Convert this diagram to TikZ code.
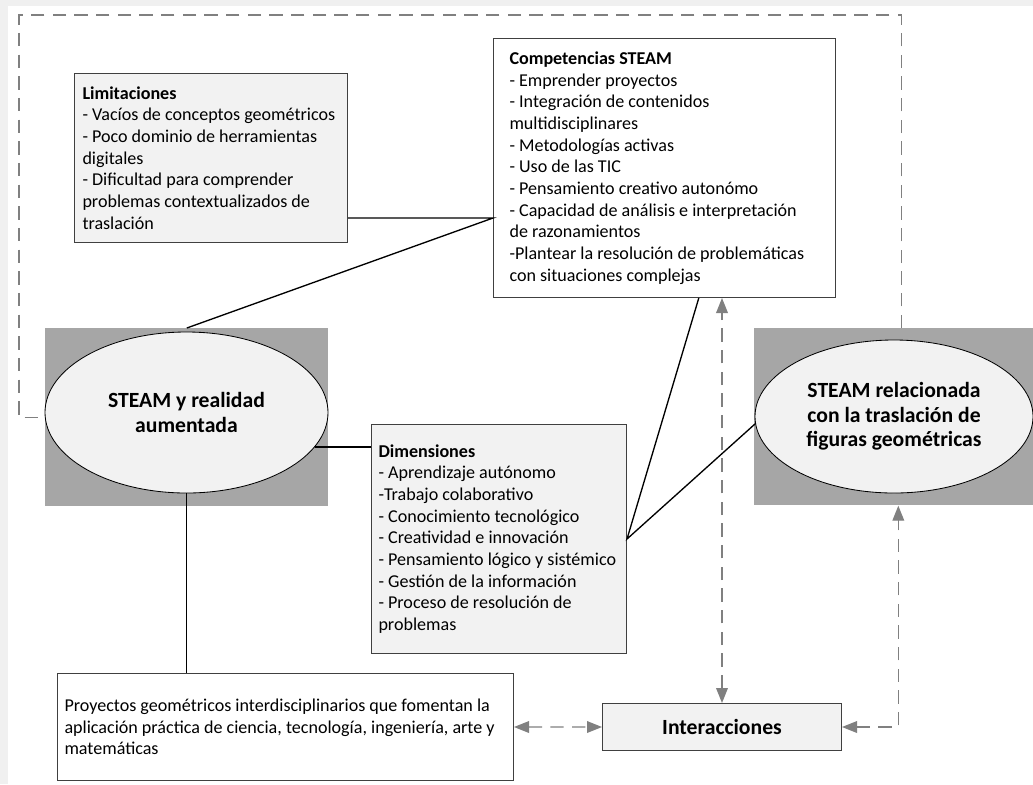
\documentclass[tikz,border=0pt]{standalone}
\usepackage{fontspec}
\setmainfont{Carlito}
\usetikzlibrary{calc, shapes.geometric, arrows.meta}

\begin{document}
\begin{tikzpicture}[x=0.6pt, y=-0.6pt,
	txtbox/.style = {draw=black!75, line width=0.6pt, anchor=north west, align=flush left,
		font=\fontsize{10.85}{13}\selectfont},
	greysq/.style = {fill=black!35, anchor=north west, inner sep=0pt},
	oval/.style = {ellipse, draw=black, fill=black!5, line width=0.5pt, inner sep=0pt,
		align=flush center, font=\fontsize{13}{14.7}\selectfont\bfseries},
	link/.style = {draw=black, line width=0.8pt},
	dline/.style = {draw=black!50, line width=0.8pt, dash pattern=on 8pt off 5pt},
	darrow/.style = {dline, {Triangle[length=9pt,width=7pt]}-{Triangle[length=9pt,width=7pt]}}]

	\fill[black!6] (0,0) rectangle (1033,784);
	\fill[white] (8,6) rectangle (1033,784);
	\useasboundingbox (0,0) rectangle (1033,784);

	\node[txtbox, fill=black!5, minimum width=163.8pt, minimum height=101.4pt,
		text width=154.2pt, inner xsep=4.8pt] (lim) at (74,73)
		{\textbf{Limitaciones}\\- Vacíos de conceptos geométricos\\- Poco dominio de herramientas\\digitales\\- Dificultad para comprender\\problemas contextualizados de\\traslación};
	\node[txtbox, fill=white, minimum width=205.2pt, minimum height=155.4pt,
		text width=186pt, inner xsep=9.6pt] (comp) at (493,38)
		{\textbf{Competencias STEAM}\\- Emprender proyectos\\- Integración de contenidos\\multidisciplinares\\- Metodologías activas\\- Uso de las TIC\\- Pensamiento creativo autonómo\\- Capacidad de análisis e interpretación\\de razonamientos\\-Plantear la resolución de problemáticas\\con situaciones complejas};
	\node[txtbox, fill=black!5, minimum width=153pt, minimum height=137.4pt,
		text width=144.6pt, inner xsep=4.2pt] (dim) at (371,424)
		{\textbf{Dimensiones}\\- Aprendizaje autónomo\\-Trabajo colaborativo\\- Conocimiento tecnológico\\- Creatividad e innovación\\- Pensamiento lógico y sistémico\\- Gestión de la información\\- Proceso de resolución de\\problemas};
	\node[txtbox, fill=white, minimum width=273.6pt, minimum height=64.2pt,
		text width=265.2pt, inner xsep=4.2pt] (proy) at (57,673)
		{Proyectos geométricos interdisciplinarios que fomentan la\\aplicación práctica de ciencia, tecnología, ingeniería, arte y\\matemáticas};
	\node[txtbox, fill=black!5, minimum width=143.4pt, minimum height=28.2pt, inner sep=0pt,
		align=flush center, font=\fontsize{13}{14.7}\selectfont\bfseries] (inter) at (602,703) {Interacciones};

	\node[greysq, minimum width=169.8pt, minimum height=106.8pt] (lsq) at (45,328) {};
	\node[greysq, minimum width=167.4pt, minimum height=106.2pt] (rsq) at (754,328) {};
	\node[oval, minimum width=169.8pt, minimum height=96.6pt] (lell) at (186.5,412.5)
		{STEAM y realidad\\aumentada};
	\node[oval, minimum width=166.8pt, minimum height=91.8pt] (rell) at (894,416.5)
		{STEAM relacionada\\con la traslación de\\figuras geométricas};

	\coordinate (fr) at (19,15);
	\coordinate (cj) at (comp.west |- 0,218);
	\coordinate (cs) at ($(comp.south west)!0.6!(comp.south east)$);
	\coordinate (rt) at ($(rsq.north west)!0.527!(rsq.north east)$);
	\coordinate (rb) at ($(rsq.south west)!0.516!(rsq.south east)$);

	\draw[link] (lim.east |- cj) -- (cj) -- (lsq.north);
	\draw[link] (lell.-15) -- (lell.-15 -| dim.west);
	\draw[link] (lell.south) -- (lell.south |- proy.north);
	\draw[link] (cs) -- (dim.east) -- (rell.183);

	\begin{scope}
		\draw[darrow] (inter.north) -- (inter.north |- comp.south);
		\draw[darrow] (proy.east) -- (inter.west);
		\draw[darrow] (inter.east) -| (rb);
		\draw[dline] (rt) |- (fr) |- (lsq.west);
	\end{scope}
\end{tikzpicture}
\end{document}
